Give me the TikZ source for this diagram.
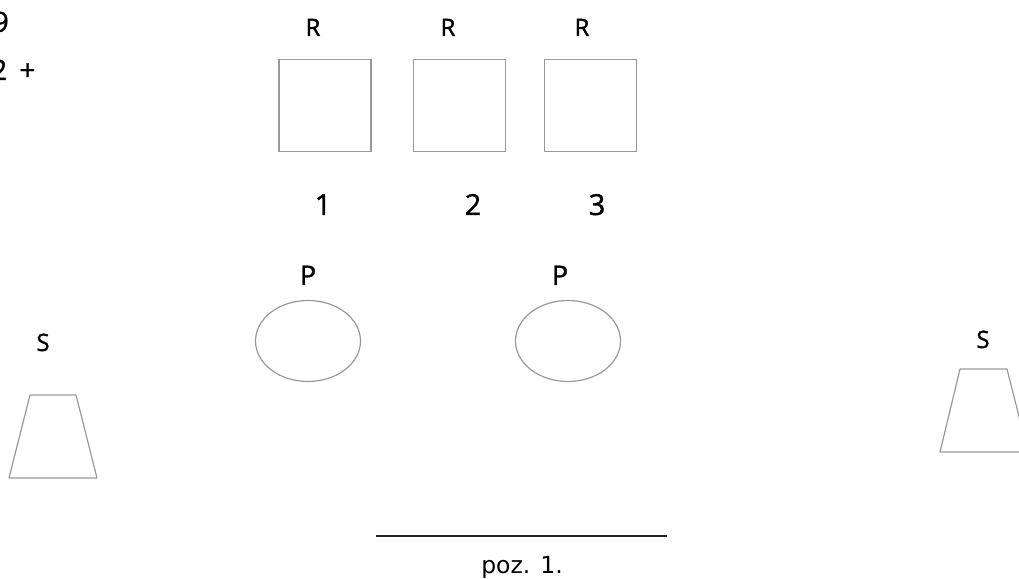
\documentclass[tikz,border=0pt]{standalone}
\usepackage{fontspec}
\setmainfont[FakeBold=1.2]{Open Sans}
\newfontfamily\capfont{DejaVu Sans}
\usetikzlibrary{shapes.geometric}

\begin{document}
\begin{tikzpicture}[x=1pt,y=1pt,
  box/.style={draw=black!40,line width=1.2pt,minimum size=92pt,inner sep=0pt},
  pot/.style={ellipse,draw=black!40,line width=1.2pt,minimum width=105pt,minimum height=81pt,inner sep=0pt},
  stand/.style={draw=black!40,line width=1.2pt,line join=round},
  lbl/.style={font=\fontsize{24}{28}\selectfont,inner sep=0pt,anchor=base}]
  \useasboundingbox (0,0) rectangle (1019,578);

  % cut-off text at the left edge
  \node[lbl,anchor=base east,font=\fontsize{28}{32}\selectfont] (t9) at (9,546) {9};
  \node[lbl,anchor=base west,font=\fontsize{28}{32}\selectfont] (t2) at (-9,498) {2\hspace{5pt} +};

  % rails
  \node[box] (r1) at (325,472.5) {};
  \node[box] (r2) at (459.5,472.5) {};
  \node[box] (r3) at (590.5,472.5) {};
  \node[lbl] (lr1) at (313,542) {R};
  \node[lbl] (lr2) at (448,542) {R};
  \node[lbl] (lr3) at (582,542) {R};
  \node[lbl,font=\fontsize{29}{34}\selectfont] (n1) at (323,363) {1};
  \node[lbl,font=\fontsize{29}{34}\selectfont] (n2) at (473,363) {2};
  \node[lbl,font=\fontsize{29}{34}\selectfont] (n3) at (597,363) {3};

  % pots
  \node[pot] (p1) at (308,237) {};
  \node[pot] (p2) at (568,237) {};
  \node[lbl,font=\fontsize{27}{32}\selectfont] (lp1) at (308,293) {P};
  \node[lbl,font=\fontsize{27}{32}\selectfont] (lp2) at (560,293) {P};

  % stands
  \draw[stand] (9,100) -- (97,100) -- (76,183) -- (30,183) -- cycle;
  \draw[stand] (940,126) -- (1028,126) -- (1007,209) -- (960,209) -- cycle;
  \node[lbl] (ls1) at (43,227) {S};
  \node[lbl] (ls2) at (983,230) {S};

  % caption
  \coordinate (c1) at (376,42);
  \coordinate (c2) at (667,42);
  \draw[line width=1.5pt,black!85] (c1) -- (c2);
  \node[lbl,font=\capfont\fontsize{23.5}{28}\selectfont] (cap) at (522,5) {poz. 1.};
\end{tikzpicture}
\end{document}
